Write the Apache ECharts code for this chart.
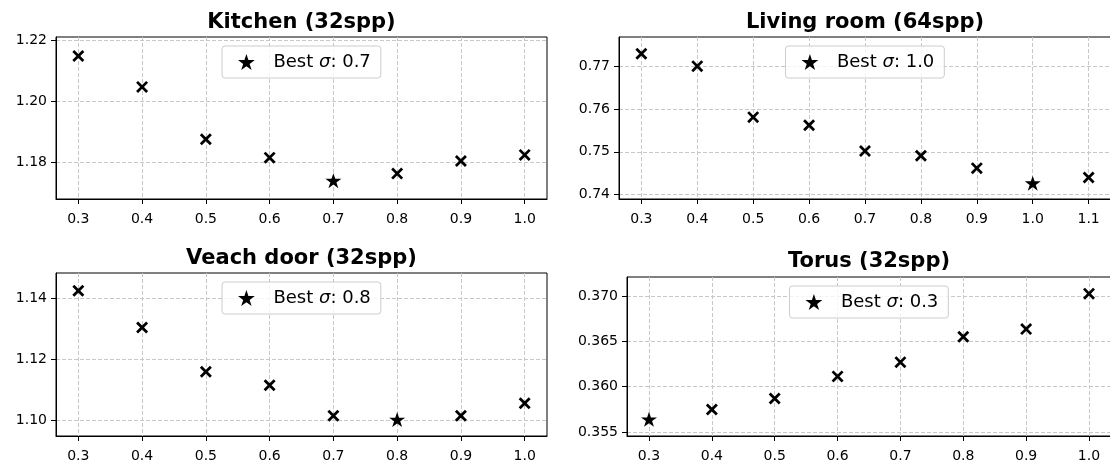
<!DOCTYPE html>
<html>
<head>
<meta charset="utf-8">
<title>best sigma</title>
<style>html,body{margin:0;padding:0;background:#fff;}</style>
</head>
<body>
<div id="main" style="width:1110px;height:466px;"></div>
<script src="https://cdn.jsdelivr.net/npm/echarts@6/dist/echarts.min.js"></script>
<script>
var titles = ['Kitchen (32spp)', 'Living room (64spp)', 'Veach door (32spp)', 'Torus (32spp)'];

var sigmas = [0.3, 0.4, 0.5, 0.6, 0.7, 0.8, 0.9, 1.0];
var sigmasLiving = [0.3, 0.4, 0.5, 0.6, 0.7, 0.8, 0.9, 1.0, 1.1];

var kitchen = [1.2148, 1.2047, 1.1876, 1.1816, 1.1741, 1.1764, 1.1805, 1.1825];
var living = [0.7729, 0.7700, 0.7581, 0.7562, 0.7502, 0.7491, 0.7462, 0.7427, 0.7440];
var veach = [1.1425, 1.1305, 1.1160, 1.1116, 1.1016, 1.1004, 1.1016, 1.1057];
var torus = [0.35639, 0.35748, 0.35869, 0.36113, 0.36270, 0.36551, 0.36635, 0.37026];

var xTicks = [0.3, 0.4, 0.5, 0.6, 0.7, 0.8, 0.9, 1.0];
var xTicksLiving = [0.3, 0.4, 0.5, 0.6, 0.7, 0.8, 0.9, 1.0, 1.1];
var yTicksKitchen = [1.18, 1.20, 1.22];
var yTicksLiving = [0.74, 0.75, 0.76, 0.77];
var yTicksVeach = [1.10, 1.12, 1.14];
var yTicksTorus = [0.355, 0.360, 0.365, 0.370];

var FONT = 'DejaVu Sans';
var CROSS = 'path://M0,1.95L1.95,0L12,10.05L10.05,12ZM10.05,0L12,1.95L1.95,12L0,10.05Z';
var STAR = 'path://M100,0L122.45,69.1L195.1,69.1L136.3,111.8L158.8,180.9L100,138.2L41.2,180.9L63.7,111.8L4.9,69.1L77.55,69.1Z';

// layout of the four panels
var panels = [
    {x: sigmas, y: kitchen, xt: xTicks, yt: yTicksKitchen, dec: 2, ystep: 0.02,
     xmin: 0.265, xmax: 1.035, ymin: 1.1681, ymax: 1.2210,
     left: 56, top: 37, width: 491, height: 162, titleTop: 7},
    {x: sigmasLiving, y: living, xt: xTicksLiving, yt: yTicksLiving, dec: 2, ystep: 0.01,
     xmin: 0.26, xmax: 1.14, ymin: 0.7390, ymax: 0.7768,
     left: 619, top: 37, width: 492, height: 162, titleTop: 7},
    {x: sigmas, y: veach, xt: xTicks, yt: yTicksVeach, dec: 2, ystep: 0.02,
     xmin: 0.265, xmax: 1.035, ymin: 1.0950, ymax: 1.1483,
     left: 56, top: 273, width: 491, height: 163, titleTop: 243},
    {x: sigmas, y: torus, xt: xTicks, yt: yTicksTorus, dec: 3, ystep: 0.005,
     xmin: 0.265, xmax: 1.035, ymin: 0.35455, ymax: 0.37210,
     left: 627, top: 277, width: 484, height: 159, titleTop: 246}
];

var option = {
    backgroundColor: '#fff',
    animation: false,
    title: [], grid: [], xAxis: [], yAxis: [], legend: [], series: []
};

panels.forEach(function (p, i) {
    var cx = p.left + p.width / 2;
    var best = 0;
    for (var k = 1; k < p.y.length; k++) if (p.y[k] < p.y[best]) best = k;
    var bestName = 'Best σ: ' + p.x[best].toFixed(1);
    var pts = [];
    for (var k = 0; k < p.y.length; k++) if (k !== best) pts.push([p.x[k], p.y[k]]);

    option.title.push({
        text: titles[i], left: cx - 5, top: p.titleTop, textAlign: 'center',
        textStyle: {fontFamily: FONT, fontSize: 21, fontWeight: 'bold', color: '#000'}
    });
    option.grid.push({
        left: p.left, top: p.top, width: p.width, height: p.height,
        show: true, borderColor: '#000', borderWidth: 1, backgroundColor: '#fff',
        containLabel: false, outerBoundsMode: 'none'
    });
    option.xAxis.push({
        type: 'value', gridIndex: i, min: p.xmin, max: p.xmax,
        minInterval: 0.1, maxInterval: 0.1,
        axisLine: {show: true, onZero: false, lineStyle: {color: '#000', width: 1}},
        axisTick: {show: true, inside: false, length: 5, customValues: p.xt, lineStyle: {color: '#000'}},
        axisLabel: {customValues: p.xt, margin: 13, color: '#000', fontSize: 14, fontFamily: FONT,
            formatter: function (v) { return v.toFixed(1); }},
        splitLine: {show: true, lineStyle: {color: '#c8c8c8', type: [4, 2], width: 1}}
    });
    option.yAxis.push({
        type: 'value', gridIndex: i, min: p.ymin, max: p.ymax,
        minInterval: p.ystep, maxInterval: p.ystep,
        axisLine: {show: true, onZero: false, lineStyle: {color: '#000', width: 1}},
        axisTick: {show: true, inside: false, length: 5, customValues: p.yt, lineStyle: {color: '#000'}},
        axisLabel: {customValues: p.yt, margin: 9, color: '#000', fontSize: 14, fontFamily: FONT,
            formatter: function (v) { return v.toFixed(p.dec); }},
        splitLine: {show: true, lineStyle: {color: '#c8c8c8', type: [4, 2], width: 1}}
    });
    option.legend.push({
        left: cx - 79.5, top: p.top + 9,
        data: [{name: bestName, icon: STAR}],
        selectedMode: false,
        padding: [7, 10, 7, 16],
        itemWidth: 26, itemHeight: 16,
        backgroundColor: 'rgba(255,255,255,0.8)',
        borderColor: '#cccccc', borderWidth: 1, borderRadius: 3,
        itemStyle: {color: '#000', opacity: 1},
        formatter: function (name) {
            var parts = name.split('σ');
            return '{n|' + parts[0] + '}{i|σ}{t|' + parts[1] + '}';
        },
        textStyle: {
            color: '#000', fontFamily: FONT, fontSize: 18, lineHeight: 17,
            rich: {
                n: {color: '#000', fontFamily: FONT, fontSize: 18, padding: [0, 0, 0, 9]},
                i: {color: '#000', fontFamily: FONT, fontSize: 18, fontStyle: 'italic'},
                t: {color: '#000', fontFamily: FONT, fontSize: 18}
            }
        }
    });
    option.series.push({
        type: 'scatter', xAxisIndex: i, yAxisIndex: i, data: pts,
        symbol: CROSS, symbolSize: 12, itemStyle: {color: '#000', opacity: 1}, silent: true, z: 3
    });
    option.series.push({
        type: 'scatter', name: bestName, xAxisIndex: i, yAxisIndex: i,
        data: [[p.x[best], p.y[best]]],
        symbol: STAR, symbolSize: [16, 15], itemStyle: {color: '#000', opacity: 1}, silent: true, z: 4
    });
});

var myChart = echarts.init(document.getElementById('main'), null, {renderer: 'canvas'});
myChart.setOption(option);
</script>
</body>
</html>
